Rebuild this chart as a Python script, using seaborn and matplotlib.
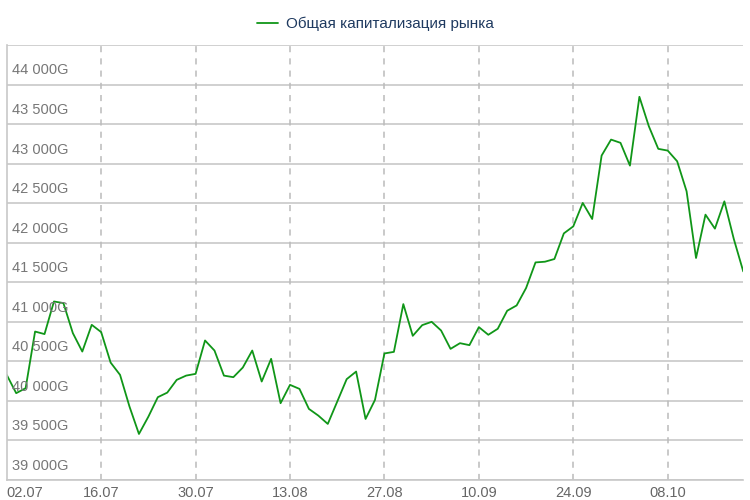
import pandas as pd
import matplotlib
matplotlib.use("Agg")
import matplotlib.pyplot as plt
import seaborn as sns

# Business-day series, 02.07 .. 19.10
dates = pd.bdate_range("2018-07-02", periods=79)
values = [
    40329, 40098, 40161, 40877, 40845, 41257, 41237, 40857, 40624, 40962,
    40870, 40485, 40329, 39928, 39582, 39801, 40047, 40105, 40266, 40320,
    40342, 40764, 40637, 40320, 40300, 40422, 40637, 40245, 40532, 39971,
    40203, 40152, 39899, 39814, 39709, 39991, 40275, 40371, 39772, 40013,
    40600, 40620, 41224, 40823, 40958, 41000, 40890, 40658, 40730, 40705,
    40933, 40836, 40912, 41140, 41207, 41427, 41751, 41760, 41794, 42118,
    42207, 42503, 42300, 43102, 43304, 43263, 42975, 43845, 43473, 43187,
    43165, 43030, 42650, 41807, 42355, 42178, 42523, 42047, 41637,
]
y_ticks = [39000, 39500, 40000, 40500, 41000, 41500, 42000, 42500, 43000, 43500, 44000]
series_name = "Общая капитализация рынка"

df = pd.DataFrame({"idx": range(len(values)), "value": values,
                   "label": dates.strftime("%d.%m")})

sns.set_style("white")
plt.rcParams["font.family"] = ["Liberation Sans", "DejaVu Sans"]

fig = plt.figure(figsize=(7.5, 5), dpi=100)
ax = fig.add_axes([0.009, 0.04, 0.982, 0.87])

sns.lineplot(data=df, x="idx", y="value", color="#109618", linewidth=1.3,
             label=series_name, ax=ax)

ax.set_xlim(0, len(values) - 1)
ax.set_ylim(39000, 44500)

# horizontal grid
for v in y_ticks + [44500]:
    ax.axhline(v, color="#c8c8c8", linewidth=1.2, zorder=0)
    if v <= 44000:
        ax.text(0.6, v + 90, f"{v:,}".replace(",", " ") + "G", color="#777777",
                fontsize=10.5, va="bottom", ha="left")

# vertical dashed grid every 10 business days
xt = list(range(0, len(values), 10))
for x in xt[1:]:
    ax.axvline(x, color="#bbbbbb", linewidth=1.1, linestyle=(0, (4, 4)), zorder=0)
ax.set_xticks(xt)
ax.set_xticklabels(df["label"].iloc[xt], color="#666666", fontsize=10.5)
ax.get_xticklabels()[0].set_ha("left")
ax.tick_params(axis="x", length=0, pad=4)
ax.set_yticks([])
ax.set_xlabel("")
ax.set_ylabel("")

for s in ["top", "right"]:
    ax.spines[s].set_visible(False)
for s in ["left", "bottom"]:
    ax.spines[s].set_color("#c8c8c8")
    ax.spines[s].set_linewidth(1.2)

leg = ax.legend(loc="lower center", bbox_to_anchor=(0.5, 1.0), frameon=False,
                fontsize=11, handlelength=1.4, handletextpad=0.5)
for t in leg.get_texts():
    t.set_color("#1f3a60")

fig.savefig("out.png", dpi=100)
